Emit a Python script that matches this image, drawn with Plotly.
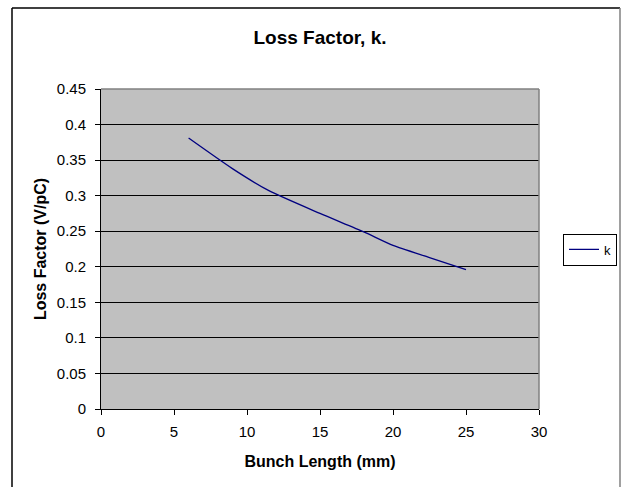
import plotly.graph_objects as go

bunch_length_mm = [6, 9, 11.5, 15, 18, 20, 22.5, 25]
loss_factor_vpc = [0.381, 0.338, 0.307, 0.275, 0.249, 0.230, 0.213, 0.196]
series_name = "k"
x_ticks = [0, 5, 10, 15, 20, 25, 30]
y_ticks = [0, 0.05, 0.1, 0.15, 0.2, 0.25, 0.3, 0.35, 0.4, 0.45]
y_tick_labels = ["0", "0.05", "0.1", "0.15", "0.2", "0.25", "0.3", "0.35", "0.4", "0.45"]

W, H = 621, 487
L, R, T, B = 101, 82, 89, 78
pw, ph = W - L - R, H - T - B

def px_x(p):
    return (p - L) / pw

def px_y(p):
    return (H - B - p) / ph

font = "Liberation Sans, Arial, sans-serif"

fig = go.Figure()
fig.add_trace(go.Scatter(
    x=bunch_length_mm, y=loss_factor_vpc, mode="lines", name=series_name,
    line=dict(color="#000080", width=1.3, shape="spline", smoothing=0.6),
))

fig.update_layout(
    width=W, height=H,
    margin=dict(l=L, r=R, t=T, b=B, autoexpand=False),
    paper_bgcolor="white",
    plot_bgcolor="#C0C0C0",
    font=dict(family=font, size=15, color="black"),
    title=dict(text="<b>Loss Factor, k.</b>", x=0.5, xref="paper", xanchor="center",
               y=1 - 37 / H, yanchor="middle", font=dict(size=19, family=font)),
    showlegend=True,
    legend=dict(x=px_x(563), y=px_y(249.5), xanchor="left", yanchor="middle",
                bordercolor="black", borderwidth=1, bgcolor="white",
                font=dict(size=13, family=font), itemwidth=30,
                tracegroupgap=0),
    xaxis=dict(range=[0, 30], tickvals=x_ticks, showgrid=False, zeroline=False,
               showline=True, linecolor="black", linewidth=1,
               ticks="outside", ticklen=5, tickcolor="black", ticklabelstandoff=4,
               title=dict(text="<b>Bunch Length (mm)</b>", font=dict(size=16), standoff=16)),
    yaxis=dict(range=[0, 0.45], tickvals=y_ticks, ticktext=y_tick_labels,
               showgrid=True, gridcolor="black", gridwidth=1, zeroline=False,
               showline=True, linecolor="black", linewidth=1,
               ticks="outside", ticklen=5, tickcolor="black", ticklabelstandoff=6,
               title=dict(text="<b>Loss Factor (V/pC)</b>", font=dict(size=16), standoff=6)),
    shapes=[
        # plot area border (top/right grey)
        dict(type="line", xref="paper", yref="paper", x0=0, x1=1, y0=1, y1=1,
             line=dict(color="#808080", width=1.5)),
        dict(type="line", xref="paper", yref="paper", x0=1, x1=1, y0=0, y1=1,
             line=dict(color="#808080", width=1.5)),
        # outer chart frame
        dict(type="line", xref="paper", yref="paper", x0=px_x(12), x1=px_x(620),
             y0=px_y(8), y1=px_y(8), line=dict(color="black", width=1.5)),
        dict(type="line", xref="paper", yref="paper", x0=px_x(12), x1=px_x(12),
             y0=px_y(8), y1=px_y(490), line=dict(color="black", width=1.5)),
        dict(type="line", xref="paper", yref="paper", x0=px_x(620), x1=px_x(620),
             y0=px_y(8), y1=px_y(490), line=dict(color="#808080", width=1.5)),
    ],
)

fig.write_html("out.html", config={"displayModeBar": False},
               post_script="document.body.style.margin='0';document.body.style.overflow='hidden';")
